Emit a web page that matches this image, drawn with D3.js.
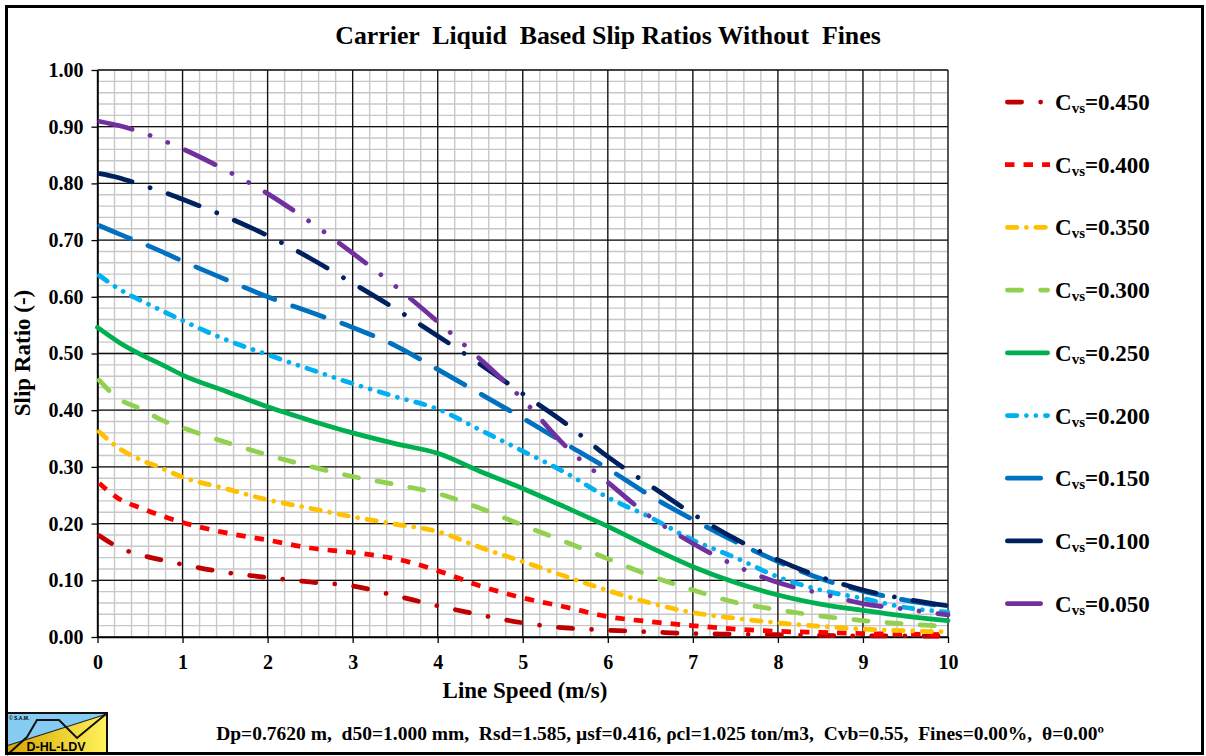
<!DOCTYPE html>
<html><head><meta charset="utf-8">
<script src="https://cdn.jsdelivr.net/npm/d3@7/dist/d3.min.js"></script>
<style>
html,body{margin:0;padding:0;background:#fff;}
svg text{font-family:"Liberation Serif","Times New Roman",serif;font-weight:bold;fill:#000;}
</style></head>
<body>
<svg id="chart" width="1206" height="756"></svg>
<script>
// ---------- DATA ----------
const speeds = [0,0.25,0.5,0.75,1,1.5,2,2.5,3,3.5,4,4.5,5,5.5,6,6.5,7,7.5,8,8.5,9,9.5,10];
const cvs450 = [0.181,0.158,0.145,0.136,0.128,0.114,0.105,0.097,0.090,0.073,0.055,0.039,0.025,0.016,0.012,0.009,0.006,0.005,0.004,0.003,0.002,0.002,0.001];
const cvs400 = [0.274,0.244,0.228,0.214,0.202,0.184,0.171,0.157,0.149,0.138,0.117,0.090,0.069,0.053,0.036,0.027,0.020,0.014,0.010,0.008,0.006,0.005,0.004];
const cvs350 = [0.365,0.333,0.313,0.298,0.282,0.262,0.242,0.227,0.212,0.199,0.186,0.158,0.133,0.107,0.082,0.060,0.043,0.033,0.025,0.019,0.014,0.011,0.009];
const cvs300 = [0.456,0.420,0.403,0.383,0.369,0.344,0.321,0.301,0.283,0.269,0.253,0.227,0.197,0.168,0.138,0.108,0.083,0.061,0.048,0.037,0.029,0.023,0.019];
const cvs250 = [0.546,0.520,0.499,0.481,0.462,0.434,0.406,0.382,0.360,0.341,0.324,0.292,0.262,0.229,0.195,0.158,0.124,0.096,0.074,0.058,0.047,0.037,0.029];
const cvs200 = [0.640,0.614,0.594,0.576,0.558,0.525,0.498,0.472,0.447,0.424,0.402,0.365,0.328,0.290,0.246,0.211,0.171,0.140,0.106,0.083,0.068,0.052,0.044];
const cvs150 = [0.727,0.711,0.696,0.680,0.663,0.631,0.600,0.573,0.546,0.514,0.472,0.429,0.386,0.341,0.297,0.249,0.207,0.168,0.133,0.103,0.081,0.065,0.053];
const cvs100 = [0.818,0.810,0.798,0.786,0.772,0.742,0.708,0.668,0.624,0.579,0.531,0.481,0.429,0.377,0.318,0.267,0.217,0.173,0.136,0.106,0.083,0.067,0.055];
const cvs050 = [0.910,0.902,0.891,0.877,0.861,0.824,0.782,0.732,0.677,0.619,0.556,0.490,0.419,0.337,0.273,0.212,0.165,0.126,0.096,0.077,0.059,0.049,0.039];
const seriesLabels = ["0.450","0.400","0.350","0.300","0.250","0.200","0.150","0.100","0.050"];
const yTickValues = [0,0.1,0.2,0.3,0.4,0.5,0.6,0.7,0.8,0.9,1.0];
const xTickValues = [0,1,2,3,4,5,6,7,8,9,10];
const titleText = "Carrier  Liquid  Based Slip Ratios Without  Fines";
const xTitle = "Line Speed (m/s)";
const yTitle = "Slip Ratio (-)";
const footerText = "Dp=0.7620 m,  d50=1.000 mm,  Rsd=1.585, µsf=0.416, ρcl=1.025 ton/m3,  Cvb=0.55,  Fines=0.00%,  θ=0.00º";

// ---------- STYLES ----------
const W = 4.75;
// dash patterns in units of line width, Excel style: visible lengths [dash, gap, dash, gap...]
const patterns = {
  dashDot:[4,3,1,3], sysDash:null, sysDashDot:[3,1,1,1], dash:[4,3], solid:null,
  sysDashDotDot:[3,1,1,1,1,1], lgDash:[8,3], lgDashDot:[8,3,1,3], lgDashDotDot:[8,3,1,3,1,3]
};
const styles = [
  {color:"#C00000", pat:"dashDot"},
  {color:"#FF0000", pat:"sysDash"},
  {color:"#FFC000", pat:"sysDashDot"},
  {color:"#92D050", pat:"dash"},
  {color:"#00B050", pat:"solid"},
  {color:"#00B0F0", pat:"sysDashDotDot"},
  {color:"#0070C0", pat:"lgDash"},
  {color:"#002060", pat:"lgDashDot"},
  {color:"#7030A0", pat:"lgDashDotDot"}
];
function dashArray(name){
  if(name==="sysDash") return (2*W)+","+(1.9*W);
  const p = patterns[name];
  if(!p) return null;
  return p.map((v,i)=> i%2===0 ? Math.max(v*W-W,0.001) : v*W+W).join(",");
}
function capFor(name){ return name==="sysDash" ? "butt" : "round"; }

const seriesValues = [cvs450,cvs400,cvs350,cvs300,cvs250,cvs200,cvs150,cvs100,cvs050];

// ---------- LAYOUT ----------
const svg = d3.select("#chart");
svg.append("rect").attr("x",0).attr("y",0).attr("width",1206).attr("height",756).attr("fill","#fff");

const x = d3.scaleLinear().domain([0,10]).range([97.5,948]);
const y = d3.scaleLinear().domain([0,1]).range([637,70]);

// minor grid
const g = svg.append("g");
const minorX = d3.range(0,10.0001,0.2), minorY = d3.range(0,1.0001,0.02);
g.selectAll(".mx").data(minorX).join("line")
  .attr("x1",d=>x(d)).attr("x2",d=>x(d)).attr("y1",y(0)).attr("y2",y(1))
  .attr("stroke","#c8c8c8").attr("stroke-width",1.4);
g.selectAll(".my").data(minorY).join("line")
  .attr("x1",x(0)).attr("x2",x(10)).attr("y1",d=>y(d)).attr("y2",d=>y(d))
  .attr("stroke","#c8c8c8").attr("stroke-width",1.4);
// major grid
g.selectAll(".Mx").data(xTickValues).join("line")
  .attr("x1",d=>x(d)).attr("x2",d=>x(d)).attr("y1",y(0)).attr("y2",y(1))
  .attr("stroke","#111").attr("stroke-width",1.3);
g.selectAll(".My").data(yTickValues).join("line")
  .attr("x1",x(0)).attr("x2",x(10)).attr("y1",d=>y(d)).attr("y2",d=>y(d))
  .attr("stroke","#111").attr("stroke-width",1.3);

// axes
const yAxis = svg.append("g").attr("transform",`translate(${x(0)},0)`)
  .call(d3.axisLeft(y).tickValues(yTickValues).tickFormat(d3.format(".2f")).tickSizeInner(6).tickSizeOuter(0).tickPadding(8));
const xAxis = svg.append("g").attr("transform",`translate(0,${y(0)})`)
  .call(d3.axisBottom(x).tickValues(xTickValues).tickFormat(d3.format("d")).tickSizeInner(6).tickSizeOuter(0).tickPadding(12));
[yAxis,xAxis].forEach(a=>{
  a.selectAll("path.domain").attr("stroke","#000").attr("stroke-width",1.5);
  a.selectAll(".tick line").attr("stroke","#000").attr("stroke-width",1.3);
  a.selectAll("text").attr("font-family","Liberation Serif, Times New Roman, serif")
    .attr("font-weight","bold").attr("font-size",20).attr("fill","#000");
});

// series lines
const line = d3.line().x((d,i)=>x(speeds[i])).y(d=>y(d)).curve(d3.curveMonotoneX);
seriesValues.forEach((vals,k)=>{
  const st = styles[k];
  const p = svg.append("path").datum(vals).attr("d",line)
    .attr("fill","none").attr("stroke",st.color).attr("stroke-width",W)
    .attr("stroke-linecap",capFor(st.pat)).attr("stroke-linejoin","round");
  const da = dashArray(st.pat);
  if(da){ p.attr("stroke-dasharray",da).attr("stroke-dashoffset",-W/2); }
});

// title
svg.append("text").attr("x",608).attr("y",44).attr("text-anchor","middle")
  .attr("font-size",25.8).style("white-space","pre").text(titleText);
// axis titles
svg.append("text").attr("x",525).attr("y",698).attr("text-anchor","middle").attr("font-size",23).text(xTitle);
svg.append("text").attr("transform","translate(30,353) rotate(-90)").attr("text-anchor","middle").attr("font-size",23).text(yTitle);
// footer
svg.append("text").attr("x",660).attr("y",740).attr("text-anchor","middle").attr("font-size",19.5)
  .style("white-space","pre").text(footerText);

// legend
const lg = svg.append("g");
seriesLabels.forEach((lab,k)=>{
  const yy = 102 + k*62.7;
  const st = styles[k];
  const l = lg.append("line").attr("x1",1005+W/2).attr("x2",1050-W/2).attr("y1",yy).attr("y2",yy)
    .attr("stroke",st.color).attr("stroke-width",W).attr("stroke-linecap",capFor(st.pat));
  if(st.pat==="sysDash"){ l.attr("x1",1005).attr("x2",1050); }
  const da = dashArray(st.pat);
  if(da) l.attr("stroke-dasharray",da);
  const t = lg.append("text").attr("x",1055).attr("y",yy+8).attr("font-size",23);
  t.append("tspan").text("C");
  t.append("tspan").attr("font-size",15).attr("dy",3).text("vs");
  t.append("tspan").attr("dy",-3).text("="+lab);
});

// logo
const defs = svg.append("defs");
const grad = defs.append("linearGradient").attr("id","lgold").attr("x1","0%").attr("x2","100%");
grad.append("stop").attr("offset","0%").attr("stop-color","#D6A400");
grad.append("stop").attr("offset","100%").attr("stop-color","#FFF35C");
const lo = svg.append("g");
lo.append("rect").attr("x",6).attr("y",713).attr("width",101).attr("height",41).attr("fill","#86CCF2");
lo.append("polygon").attr("points","6,746 107,714 107,754 6,754").attr("fill","url(#lgold)");
lo.append("line").attr("x1",6).attr("y1",746).attr("x2",107).attr("y2",714).attr("stroke","#222").attr("stroke-width",1.3);
lo.append("polyline").attr("points","7,755 27,737 37,720 59,720 77,738 106,714").attr("fill","none").attr("stroke","#111").attr("stroke-width",2);
lo.append("rect").attr("x",6).attr("y",713).attr("width",101).attr("height",41).attr("fill","none").attr("stroke","#111").attr("stroke-width",2);
lo.append("text").attr("x",9).attr("y",719.5).attr("font-size",5).style("font-family","Liberation Sans, Arial, sans-serif").text("© S.A.M.");
lo.append("text").attr("x",56).attr("y",751).attr("text-anchor","middle").attr("font-size",12.5)
  .style("font-family","Liberation Sans, Arial, sans-serif").text("D-HL-LDV");

// outer frame
svg.append("rect").attr("x",6.5).attr("y",6.5).attr("width",1196).attr("height",747)
  .attr("fill","none").attr("stroke","#000").attr("stroke-width",3);
</script>
</body></html>
